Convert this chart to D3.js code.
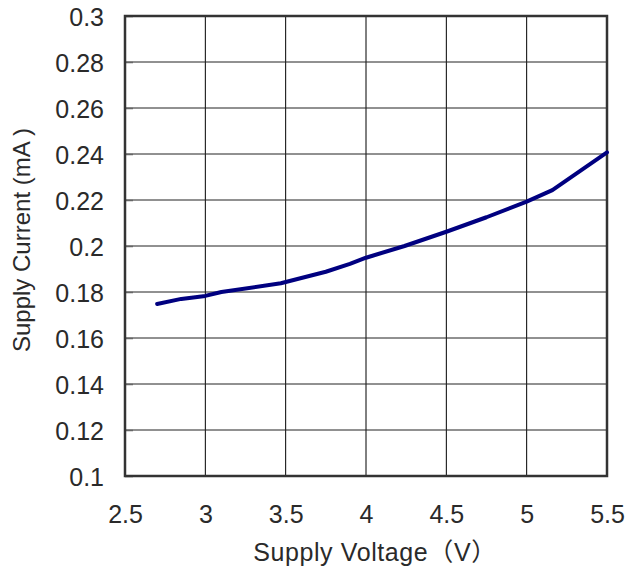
<!DOCTYPE html>
<html>
<head>
<meta charset="utf-8">
<script src="https://cdn.jsdelivr.net/npm/d3@7"></script>
<style>
  body { margin: 0; background: #fff; }
  text { font-family: "Liberation Sans", Arial, "Noto Sans CJK SC", sans-serif; fill: #2a2a2a; }
</style>
</head>
<body>
<div id="chart"></div>
<script>
// supply voltage (V) vs supply current (mA)
const voltage = [2.7, 2.85, 3.0, 3.1, 3.47, 3.75, 3.9, 4.0, 4.24, 4.5, 4.75, 5.0, 5.16, 5.5];
const current = [0.1748, 0.1770, 0.1783, 0.1800, 0.1838, 0.1888, 0.1922, 0.1949, 0.2000, 0.2062, 0.2125, 0.2193, 0.2243, 0.2407];
const xTicks = [2.5, 3, 3.5, 4, 4.5, 5, 5.5];
const yTicks = [0.1, 0.12, 0.14, 0.16, 0.18, 0.2, 0.22, 0.24, 0.26, 0.28, 0.3];

const width = 628, height = 571;
const margin = { top: 16, right: 21, bottom: 95, left: 125 };
const w = width - margin.left - margin.right;
const h = height - margin.top - margin.bottom;

const svg = d3.select("#chart").append("svg")
  .attr("width", width)
  .attr("height", height);
const g = svg.append("g")
  .attr("transform", `translate(${margin.left},${margin.top})`);

const x = d3.scaleLinear().domain([2.5, 5.5]).range([0, w]);
const y = d3.scaleLinear().domain([0.1, 0.3]).range([h, 0]);

// grid
g.append("g").selectAll("line.vg")
  .data(xTicks.slice(1, -1)).enter().append("line")
  .attr("x1", d => x(d)).attr("x2", d => x(d))
  .attr("y1", 0).attr("y2", h)
  .attr("stroke", "#000").attr("stroke-width", 1);
g.append("g").selectAll("line.hg")
  .data(yTicks.slice(1, -1)).enter().append("line")
  .attr("y1", d => y(d)).attr("y2", d => y(d))
  .attr("x1", 0).attr("x2", w)
  .attr("stroke", "#222").attr("stroke-width", 1);

// axes (labels only, small inside ticks on the left)
const xAxis = g.append("g")
  .attr("transform", `translate(0,${h})`)
  .call(d3.axisBottom(x).tickValues(xTicks).tickSize(0).tickPadding(29).tickFormat(d3.format("")));
xAxis.select(".domain").remove();
xAxis.selectAll("text").style("font-size", "25px");

const yAxis = g.append("g")
  .call(d3.axisLeft(y).tickValues(yTicks).tickSizeInner(-8).tickSizeOuter(0).tickPadding(21).tickFormat(d3.format("")));
yAxis.select(".domain").remove();
yAxis.selectAll("line").attr("stroke", "#666").attr("stroke-width", 1.5);
yAxis.selectAll("text").style("font-size", "25px").attr("dy", "0.36em");

// frame
g.append("rect")
  .attr("x", 0).attr("y", 0).attr("width", w).attr("height", h)
  .attr("fill", "none").attr("stroke", "#333").attr("stroke-width", 2.5);

// curve
const line = d3.line()
  .x((d, i) => x(voltage[i]))
  .y(d => y(d));
g.append("path")
  .datum(current)
  .attr("d", line)
  .attr("fill", "none")
  .attr("stroke", "#000080")
  .attr("stroke-width", 4)
  .attr("stroke-linejoin", "round")
  .attr("stroke-linecap", "round");

// titles
svg.append("text")
  .attr("x", 375)
  .attr("y", 561)
  .attr("text-anchor", "middle")
  .style("font-size", "25px")
  .style("letter-spacing", "0.6px")
  .text("Supply Voltage（V）");

svg.append("text")
  .attr("transform", `translate(30,${margin.top + h / 2 - 6}) rotate(-90)`)
  .attr("text-anchor", "middle")
  .style("font-size", "24px")
  .text("Supply Current (mA )");
</script>
</body>
</html>
